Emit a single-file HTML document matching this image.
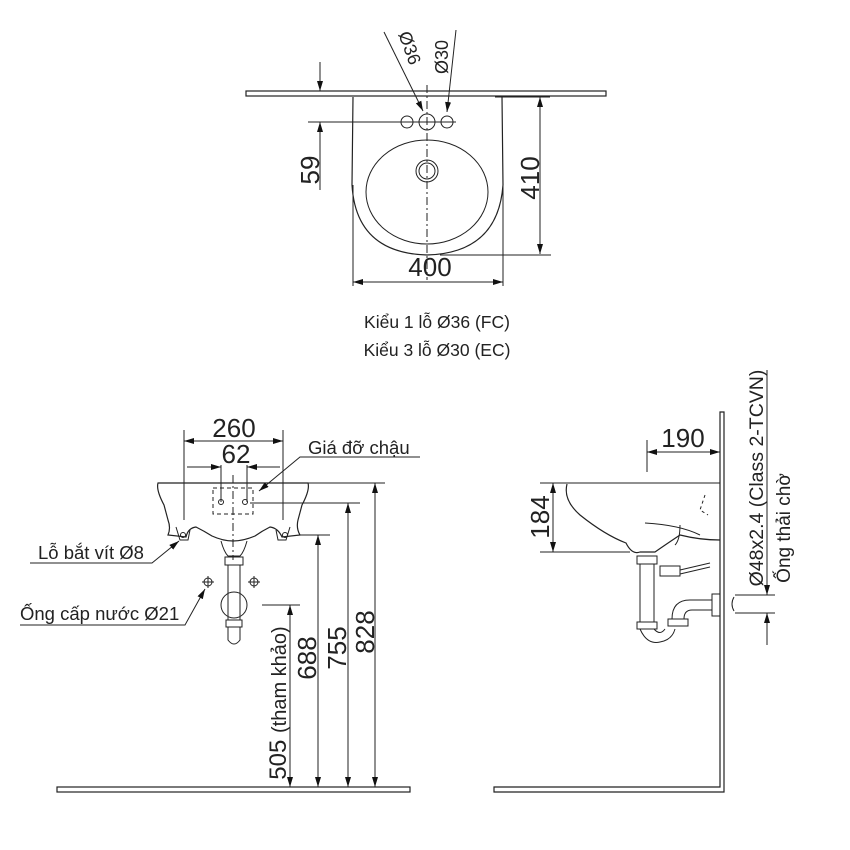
<!DOCTYPE html>
<html><head><meta charset="utf-8"><style>
html,body{margin:0;padding:0;background:#fff;}
svg{display:block;}
text{font-family:"Liberation Sans",sans-serif;fill:#222;}
</style></head><body>
<svg width="850" height="850" viewBox="0 0 850 850" xmlns="http://www.w3.org/2000/svg">
<defs>
<marker id="a" viewBox="0 0 10 6" refX="10" refY="3" markerWidth="10" markerHeight="6" orient="auto-start-reverse" markerUnits="userSpaceOnUse"><path d="M0,0 L10,3 L0,6 z" fill="#111"/></marker>
</defs>
<g stroke="#222" fill="none" stroke-width="1">
<!-- TOP VIEW -->
<rect x="246" y="91" width="360" height="5" stroke-width="1.2"/>
<path d="M353,97 L352,185 Q356,253 427,255 Q498,253 503,185 L502,97" stroke-width="1.2"/>
<ellipse cx="427" cy="192" rx="61" ry="52"/>
<circle cx="427" cy="171" r="11"/><circle cx="427" cy="171" r="8"/>
<circle cx="407" cy="122" r="6"/><circle cx="427" cy="122" r="8"/><circle cx="447" cy="122" r="6"/>
<line x1="398" y1="122" x2="456" y2="122"/>
<line x1="427" y1="85" x2="427" y2="280" stroke-dasharray="8,3,2,3"/>
<line x1="384" y1="32" x2="423" y2="111" marker-end="url(#a)"/>
<line x1="456" y1="30" x2="447" y2="112" marker-end="url(#a)"/>
<line x1="320" y1="62" x2="320" y2="91" marker-end="url(#a)"/>
<line x1="320" y1="190" x2="320" y2="122" marker-end="url(#a)"/>
<line x1="308" y1="122" x2="400" y2="122"/>
<line x1="540" y1="97" x2="540" y2="254" marker-start="url(#a)" marker-end="url(#a)"/>
<line x1="440" y1="255" x2="551" y2="255"/>
<line x1="495" y1="97" x2="550" y2="97"/>
<line x1="353" y1="185" x2="353" y2="286"/><line x1="503" y1="185" x2="503" y2="286"/>
<line x1="353" y1="282" x2="503" y2="282" marker-start="url(#a)" marker-end="url(#a)"/>

<!-- FRONT VIEW -->
<path d="M158,483 L308,483 Q310,490 302,505 L298,520 Q296,528 300,535 L282,537 Q278,528 270,527 Q262,531 255,536 Q243,541 233,541 Q223,541 212,536 Q204,531 196,527 Q188,528 186,537 L168,535 Q171,528 168,520 L164,505 Q156,490 158,483 Z" stroke-width="1.2"/>
<path d="M176,527 L180,540 L188,540 L190,530"/><path d="M290,527 L286,540 L278,540 L276,530"/>
<circle cx="183" cy="535" r="2.5"/><circle cx="285" cy="535" r="2.5"/>
<path d="M221,541 Q224,552 228,556 L240,556 Q244,552 247,541"/>
<rect x="225" y="557" width="18" height="8"/>
<rect x="228" y="565" width="12" height="55"/>
<circle cx="234" cy="605" r="13"/>
<rect x="226" y="620" width="16" height="7"/>
<path d="M228,627 L228,640 Q234,648 240,640 L240,627"/>
<rect x="213" y="488" width="40" height="26" stroke-dasharray="4,3"/>
<circle cx="221" cy="502" r="2.5"/><circle cx="245" cy="502" r="2.5"/>
<line x1="233" y1="475" x2="233" y2="560" stroke-dasharray="8,3,2,3"/>
<line x1="221" y1="465" x2="221" y2="502"/><line x1="247" y1="465" x2="247" y2="502"/>
<line x1="187" y1="467" x2="221" y2="467" marker-end="url(#a)"/>
<line x1="280" y1="467" x2="247" y2="467" marker-end="url(#a)"/>
<line x1="184" y1="430" x2="184" y2="520"/><line x1="283" y1="430" x2="283" y2="520"/>
<line x1="184" y1="441" x2="283" y2="441" marker-start="url(#a)" marker-end="url(#a)"/>
<circle cx="208" cy="582" r="4"/><line x1="202" y1="582" x2="214" y2="582"/><line x1="208" y1="576" x2="208" y2="588"/>
<circle cx="254" cy="582" r="4"/><line x1="248" y1="582" x2="260" y2="582"/><line x1="254" y1="576" x2="254" y2="588"/>
<polyline points="420,457 300,457 259,491" marker-end="url(#a)"/>
<polyline points="30,563 152,563 179,541" marker-end="url(#a)"/>
<polyline points="20,625 185,625 205,589" marker-end="url(#a)"/>
<line x1="255" y1="483" x2="385" y2="483"/>
<line x1="250" y1="503" x2="360" y2="503"/>
<line x1="300" y1="535" x2="330" y2="535"/>
<line x1="262" y1="605" x2="300" y2="605"/>
<line x1="375" y1="483" x2="375" y2="787" marker-start="url(#a)" marker-end="url(#a)"/>
<line x1="348" y1="503" x2="348" y2="787" marker-start="url(#a)" marker-end="url(#a)"/>
<line x1="318" y1="535" x2="318" y2="787" marker-start="url(#a)" marker-end="url(#a)"/>
<line x1="290" y1="605" x2="290" y2="787" marker-start="url(#a)" marker-end="url(#a)"/>
<rect x="57" y="787" width="353" height="5" stroke-width="1.2"/>

<!-- SIDE VIEW -->
<path d="M494,787 L720,787 L720,412 L724,412 L724,792 L494,792 Z" stroke-width="1.2"/>
<line x1="647" y1="440" x2="647" y2="472"/>
<line x1="647" y1="452" x2="720" y2="452" marker-start="url(#a)" marker-end="url(#a)"/>
<line x1="540" y1="483" x2="720" y2="483"/>
<line x1="540" y1="552" x2="630" y2="552"/>
<line x1="553" y1="483" x2="553" y2="552" marker-start="url(#a)" marker-end="url(#a)"/>
<path d="M567,484 Q563,500 580,515 Q605,535 626,543 Q632,555 640,552 L655,552 Q665,545 680,535 Q700,540 720,540" stroke-width="1.2"/>
<path d="M645,523 Q680,525 700,535"/><path d="M680,525 Q680,540 675,545"/>
<path d="M705,495 L700,510 L708,515" stroke-dasharray="3,3"/>
<rect x="637" y="556" width="20" height="8"/>
<rect x="640" y="564" width="14" height="58"/>
<rect x="660" y="566" width="20" height="10"/><line x1="680" y1="570" x2="710" y2="563"/><line x1="680" y1="574" x2="710" y2="567"/>
<rect x="637" y="622" width="20" height="7"/>
<path d="M640,629 Q647,645 660,642 Q672,640 675,629"/>
<path d="M654,629 Q660,636 665,629"/>
<rect x="668" y="619" width="20" height="7"/>
<path d="M672,619 Q672,600 690,600 L712,600 M684,619 Q684,610 692,610 L712,610"/>
<rect x="712" y="594" width="8" height="22"/>
<line x1="735" y1="595" x2="775" y2="595"/><line x1="735" y1="613" x2="775" y2="613"/>
<path d="M734,597 Q730,604 734,611"/>
<line x1="767" y1="370" x2="767" y2="595" marker-end="url(#a)"/>
<line x1="767" y1="645" x2="767" y2="613" marker-end="url(#a)"/>
</g>
<g font-size="22">
<text x="430" y="276" text-anchor="middle" font-size="26">400</text>
<text transform="translate(319,170) rotate(-90)" text-anchor="middle" font-size="26">59</text>
<text transform="translate(539,178) rotate(-90)" text-anchor="middle" font-size="26">410</text>
<text transform="translate(404,50) rotate(70)" text-anchor="middle" font-size="18">Ø36</text>
<text transform="translate(448,57) rotate(-90)" text-anchor="middle" font-size="18">Ø30</text>
<text x="437" y="328" text-anchor="middle" font-size="17.5">Kiểu 1 lỗ Ø36 (FC)</text>
<text x="437" y="356" text-anchor="middle" font-size="17.5">Kiểu 3 lỗ Ø30 (EC)</text>
<text x="234" y="437" text-anchor="middle" font-size="26">260</text>
<text x="236" y="463" text-anchor="middle" font-size="26">62</text>
<text x="308" y="454" font-size="18.5">Giá đỡ chậu</text>
<text x="38" y="559" font-size="18.5">Lỗ bắt vít Ø8</text>
<text x="20" y="620" font-size="18.5">Ống cấp nước Ø21</text>
<text transform="translate(374,632) rotate(-90)" text-anchor="middle" font-size="26">828</text>
<text transform="translate(346,648) rotate(-90)" text-anchor="middle" font-size="26">755</text>
<text transform="translate(316,658) rotate(-90)" text-anchor="middle" font-size="26">688</text>
<text transform="translate(286,703) rotate(-90)" text-anchor="middle" font-size="24">505 <tspan font-size="20">(tham khảo)</tspan></text>
<text x="683" y="447" text-anchor="middle" font-size="26">190</text>
<text transform="translate(549,517) rotate(-90)" text-anchor="middle" font-size="26">184</text>
<text transform="translate(763,478) rotate(-90)" text-anchor="middle" font-size="19.5">Ø48x2.4 (Class 2-TCVN)</text>
<text transform="translate(790,528) rotate(-90)" text-anchor="middle" font-size="19">Ống thải chờ</text>
</g>
</svg>
</body></html>
